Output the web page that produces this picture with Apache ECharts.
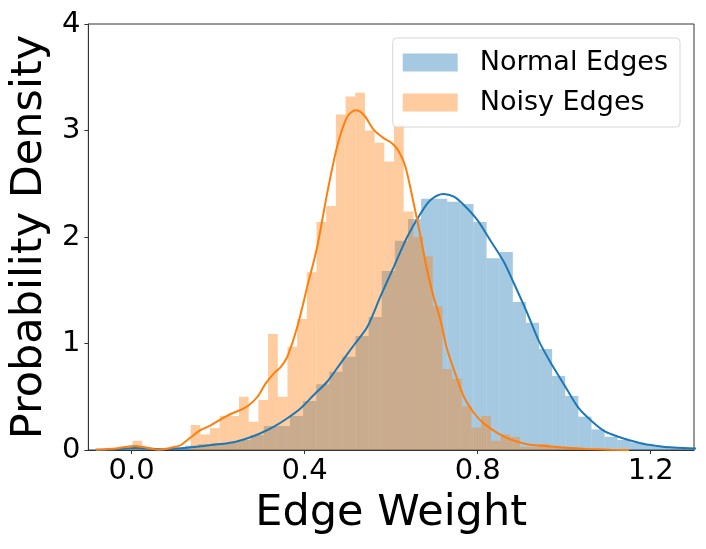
<!DOCTYPE html>
<html>
<head>
<meta charset="utf-8">
<script src="https://cdn.jsdelivr.net/npm/echarts@6/dist/echarts.min.js"></script>
<style>
html,body{margin:0;padding:0;background:#fff;}
.hist{width:706px;height:549px;}
</style>
</head>
<body>
<div class="hist"></div>
<script>
// histogram bins (left edge of first bin, bin width, density of each bin)
var normalStart = 0.0025;
var normalWidth = 0.0303;
var normalHeights = [0.015, 0, 0.005, 0.015, 0.04, 0.055, 0.066, 0.066, 0.094, 0.141, 0.225, 0.225, 0.32, 0.46, 0.617, 0.735, 0.876, 1.07, 1.25, 1.68, 1.965, 2.17, 2.36, 2.36, 2.33, 2.31, 2.14, 1.80, 1.86, 1.39, 1.195, 0.948, 0.695, 0.507, 0.313, 0.194, 0.125, 0.094, 0.07, 0.047, 0.037, 0.025, 0.02];
var noisyStart = 0.002;
var noisyWidth = 0.02239;
var noisyHeights = [0.087, 0, 0, 0, 0, 0, 0.235, 0.147, 0.205, 0.32, 0.32, 0.50, 0.265, 0.47, 1.09, 0.50, 0.97, 1.23, 1.67, 2.14, 2.29, 3.15, 3.32, 3.355, 3.00, 2.885, 2.71, 3.05, 2.24, 2.00, 1.82, 1.35, 0.76, 0.67, 0.41, 0.21, 0.32, 0.087, 0.147, 0.122, 0.03, 0.03, 0.056, 0.03, 0.02, 0.02, 0.01, 0.01, 0.005, 0.005];
// kde curves
var normalKdeX = [-0.083, -0.036, 0.009, 0.068, 0.114, 0.160, 0.206, 0.241, 0.268, 0.298, 0.329, 0.360, 0.391, 0.421, 0.452, 0.483, 0.514, 0.545, 0.575, 0.606, 0.637, 0.668, 0.691, 0.721, 0.745, 0.768, 0.799, 0.829, 0.860, 0.882, 0.912, 0.943, 0.973, 1.004, 1.034, 1.065, 1.095, 1.125, 1.155, 1.185, 1.215, 1.245, 1.30, 1.35];
var normalKdeY = [0.002, 0.008, 0.018, 0.008, 0.016, 0.035, 0.056, 0.078, 0.11, 0.157, 0.219, 0.298, 0.392, 0.516, 0.641, 0.814, 0.986, 1.158, 1.44, 1.72, 2.00, 2.22, 2.347, 2.404, 2.378, 2.30, 2.16, 1.97, 1.77, 1.58, 1.31, 1.01, 0.79, 0.585, 0.39, 0.266, 0.172, 0.125, 0.087, 0.056, 0.038, 0.025, 0.015, 0.008];
var noisyKdeX = [-0.083, -0.036, 0.009, 0.063, 0.1015, 0.114, 0.137, 0.160, 0.183, 0.206, 0.229, 0.252, 0.271, 0.291, 0.310, 0.329, 0.345, 0.360, 0.383, 0.406, 0.429, 0.452, 0.475, 0.4985, 0.518, 0.537, 0.560, 0.583, 0.602, 0.618, 0.633, 0.652, 0.668, 0.683, 0.698, 0.714, 0.729, 0.748, 0.768, 0.791, 0.814, 0.845, 0.875, 0.914, 0.960, 1.006, 1.052, 1.106, 1.15];
var noisyKdeY = [0.003, 0.015, 0.038, 0.003, 0.03, 0.047, 0.119, 0.188, 0.232, 0.288, 0.338, 0.376, 0.42, 0.50, 0.626, 0.72, 0.78, 0.876, 1.158, 1.533, 1.909, 2.41, 2.848, 3.13, 3.19, 3.146, 3.005, 2.927, 2.88, 2.80, 2.66, 2.316, 2.003, 1.69, 1.44, 1.22, 0.95, 0.72, 0.50, 0.35, 0.25, 0.16, 0.10, 0.055, 0.035, 0.02, 0.01, 0.003, 0.001];
var xTicks = [0.0, 0.4, 0.8, 1.2];
var yTicks = [0, 1, 2, 3, 4];

(function(){
  var myChart = echarts.init(document.querySelector('.hist'));
  var font = 'DejaVu Sans';

  // turn bins into [left, right, height]
  function bins(start, width, heights){
    var out = [];
    for (var i = 0; i < heights.length; i++) {
      out.push([start + i * width, start + (i + 1) * width, heights[i]]);
    }
    return out;
  }
  function pairs(xs, ys){
    var out = [];
    for (var i = 0; i < xs.length; i++) out.push([xs[i], ys[i]]);
    return out;
  }
  function renderBar(params, api){
    var p0 = api.coord([api.value(0), api.value(2)]);
    var p1 = api.coord([api.value(1), 0]);
    var rect = echarts.graphic.clipRectByRect({
      x: p0[0], y: p0[1], width: p1[0] - p0[0], height: p1[1] - p0[1]
    }, {
      x: params.coordSys.x, y: params.coordSys.y,
      width: params.coordSys.width, height: params.coordSys.height
    });
    if (!rect) return;
    return { type: 'rect', shape: rect, style: { fill: api.visual('color') } };
  }

  var option = {
    animation: false,
    grid: {
      left: 88, right: 12, top: 24, bottom: 99,
      show: true, borderColor: '#333', borderWidth: 1
    },
    legend: {
      data: ['Normal Edges', 'Noisy Edges'],
      orient: 'vertical',
      right: 26,
      top: 38,
      icon: 'rect',
      itemWidth: 55,
      itemHeight: 18,
      itemGap: 13,
      padding: [11, 12, 11, 10],
      backgroundColor: 'rgba(255,255,255,0.8)',
      borderColor: '#d6d6d6',
      borderWidth: 1,
      borderRadius: 4,
      textStyle: { fontFamily: font, fontSize: 27, color: '#000', padding: [0, 0, 0, 17] }
    },
    xAxis: {
      type: 'value',
      min: -0.1,
      max: 1.3,
      name: 'Edge Weight',
      nameLocation: 'middle',
      nameGap: 42,
      nameTextStyle: { fontFamily: font, fontSize: 43, color: '#000' },
      axisLine: { show: true, onZero: false, lineStyle: { color: '#333', width: 1 } },
      axisTick: { show: true, inside: false, length: 4, customValues: xTicks, lineStyle: { color: '#333' } },
      axisLabel: {
        customValues: xTicks,
        margin: 7,
        fontFamily: font, fontSize: 29, color: '#000',
        formatter: function(v){ return v.toFixed(1); }
      },
      splitLine: { show: false }
    },
    yAxis: {
      type: 'value',
      min: yTicks[0],
      max: yTicks[yTicks.length - 1],
      interval: 1,
      name: 'Probability Density',
      nameLocation: 'middle',
      nameGap: 33,
      nameTextStyle: { fontFamily: font, fontSize: 43, color: '#000' },
      axisLine: { show: true, onZero: false, lineStyle: { color: '#333', width: 1 } },
      axisTick: { show: true, inside: false, length: 4, lineStyle: { color: '#333' } },
      axisLabel: { margin: 8, fontFamily: font, fontSize: 29, color: '#000' },
      splitLine: { show: false }
    },
    series: [
      {
        name: 'Normal Edges',
        type: 'custom',
        renderItem: renderBar,
        itemStyle: { color: 'rgba(31,119,180,0.4)' },
        encode: { x: [0, 1], y: 2 },
        data: bins(normalStart, normalWidth, normalHeights),
        z: 1
      },
      {
        name: 'Noisy Edges',
        type: 'custom',
        renderItem: renderBar,
        itemStyle: { color: 'rgba(255,127,14,0.4)' },
        encode: { x: [0, 1], y: 2 },
        data: bins(noisyStart, noisyWidth, noisyHeights),
        z: 2
      },
      {
        name: 'Normal KDE',
        type: 'line',
        smooth: 0.3,
        showSymbol: false,
        lineStyle: { color: '#1f77b4', width: 2 },
        itemStyle: { color: '#1f77b4' },
        data: pairs(normalKdeX, normalKdeY),
        z: 3
      },
      {
        name: 'Noisy KDE',
        type: 'line',
        smooth: 0.3,
        showSymbol: false,
        lineStyle: { color: '#ff7f0e', width: 2 },
        itemStyle: { color: '#ff7f0e' },
        data: pairs(noisyKdeX, noisyKdeY),
        z: 4
      }
    ]
  };
  myChart.setOption(option);
  window.addEventListener('resize', function(){
    myChart.resize();
  });
})();
</script>
</body>
</html>
